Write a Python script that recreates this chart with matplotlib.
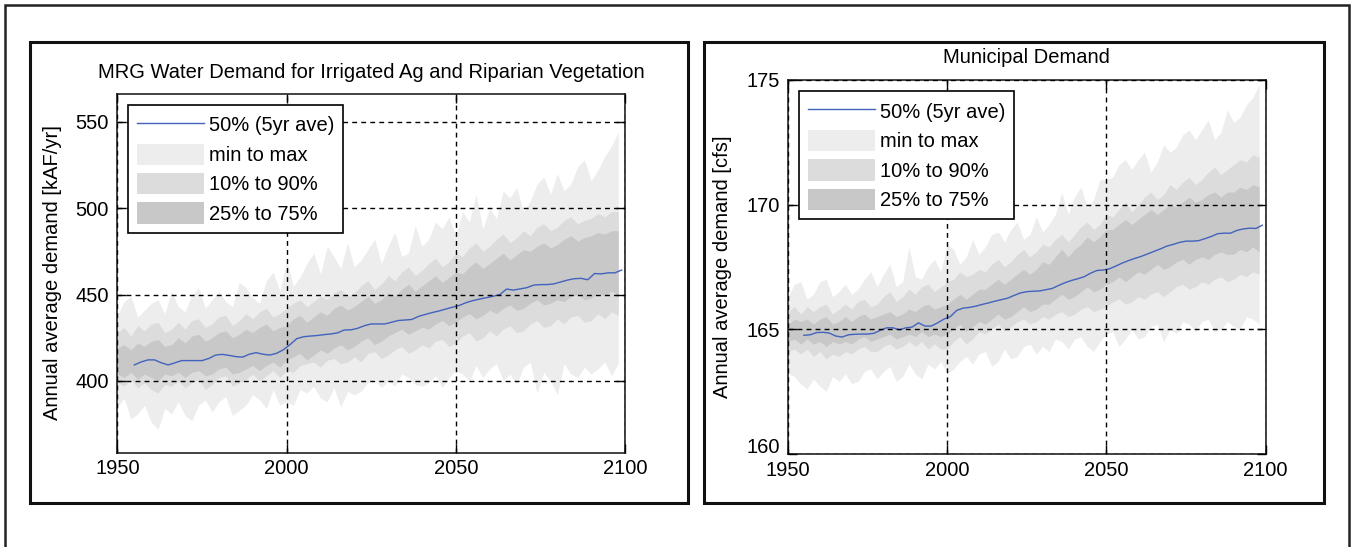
import numpy as np
import matplotlib
matplotlib.use('Agg')
import matplotlib.pyplot as plt
import matplotlib.transforms as mtransforms
from matplotlib.patches import Rectangle, Patch
from matplotlib.lines import Line2D

plt.rcParams['font.family'] = ['Liberation Sans', 'DejaVu Sans']

years = np.arange(1950, 2100, 2)
med_years = np.arange(1955, 2100, 2)

# ---- left panel: irrigated ag + riparian [kAF/yr]
ag_max = [438, 446, 449, 437, 441,  445, 447, 439, 452, 443,
          440, 450, 454, 442, 447,  452, 446, 443, 457, 454,
          448, 445, 458, 463, 452,  470, 455, 460, 468, 474,
          462, 478, 472, 465, 480,  466, 470, 476, 482, 468,
          478, 486, 472, 474, 490,  478, 482, 492, 488, 495,
          484, 498, 492, 508, 488,  500, 494, 510, 506, 512,
          498, 504, 514, 518, 508,  520, 510, 514, 524, 528,
          516, 522, 530, 536, 544]
ag_min = [385, 390, 378, 381, 386,  376, 372, 384, 381, 388,
          380, 377, 386, 389, 382,  388, 391, 380, 383, 386,
          392, 389, 384, 395, 386,  388, 386, 395, 393, 397,
          390, 388, 396, 385, 394,  392, 394, 399, 401, 396,
          400, 397, 404, 402, 398,  397, 399, 403, 396, 402,
          406, 404, 400, 409, 402,  407, 410, 400, 404, 398,
          408, 411, 393, 405, 400,  392, 410, 404, 402, 408,
          404, 407, 411, 403, 410]
ag_p10 = [399, 397, 401, 396, 399,  395, 393, 398, 397, 400,
          396, 399, 401, 395, 398,  402, 403, 397, 399, 401,
          404, 400, 403, 406, 402,  406, 405, 409, 410, 411,
          408, 412, 413, 410, 411,  414, 411, 416, 417, 413,
          415, 418, 420, 416, 418,  421, 419, 423, 424, 420,
          422, 426, 428, 423, 425,  429, 426, 430, 432, 428,
          429, 433, 435, 431, 432,  436, 433, 437, 438, 434,
          435, 439, 436, 440, 438]
ag_p90 = [428, 431, 426, 432, 429,  433, 434, 428, 430, 434,
          430, 435, 436, 431, 433,  437, 438, 432, 435, 439,
          436, 440, 442, 437, 439,  442, 445, 447, 443, 446,
          449, 447, 451, 453, 449,  451, 455, 458, 453, 456,
          461, 458, 463, 466, 461,  464, 468, 471, 466, 469,
          474, 472, 477, 480, 475,  478, 482, 485, 480, 483,
          487, 484, 489, 491, 487,  489, 493, 495, 491, 493,
          494, 497, 495, 498, 498]
ag_p25 = [404, 402, 405, 401, 404,  402, 400, 404, 403, 405,
          402, 405, 406, 403, 404,  407, 408, 404, 405, 407,
          409, 406, 409, 411, 408,  412, 414, 416, 412, 415,
          418, 416, 419, 421, 418,  420, 423, 425, 421, 423,
          426, 428, 430, 427, 429,  431, 430, 433, 435, 432,
          434, 437, 439, 436, 438,  441, 439, 442, 444, 441,
          442, 445, 447, 444, 445,  447, 446, 449, 450, 447,
          448, 451, 449, 452, 450]
ag_p75 = [419, 421, 418, 422, 420,  423, 424, 420, 421, 425,
          422, 426, 427, 423, 425,  428, 429, 425, 427, 430,
          428, 431, 433, 429, 431,  432, 436, 438, 434, 437,
          440, 438, 442, 444, 441,  443, 446, 449, 445, 447,
          451, 449, 453, 456, 452,  455, 458, 461, 457, 460,
          463, 462, 466, 469, 465,  468, 471, 474, 470, 473,
          476, 475, 478, 480, 477,  479, 482, 484, 481, 483,
          484, 486, 485, 487, 487]
ag_med = [409.3, 411.0, 412.2, 412.2, 410.5,  409.3, 410.5, 411.8, 411.8, 411.8,
          411.8, 413.0, 415.0, 415.4, 414.8,  414.1, 413.8, 415.5, 416.4, 415.5,
          415.0, 416.0, 418.0, 421.0, 424.5,  425.6, 426.0, 426.3, 426.8, 427.2,
          427.8, 429.5, 429.6, 430.5, 432.0,  433.0, 433.0, 433.0, 434.0, 435.0,
          435.3, 435.6, 437.4, 438.5, 439.6,  440.5, 441.6, 442.7, 443.7, 445.3,
          446.5, 447.4, 448.2, 449.0, 450.0,  453.2, 452.6, 453.3, 454.0, 455.5,
          455.8, 455.8, 456.2, 457.3, 458.4,  459.2, 459.4, 458.6, 462.2, 462.0,
          462.6, 462.6, 464.2]

# ---- right panel: municipal demand [cfs]
mu_max = [166.3, 166.8, 166.9, 166.2, 166.4,  166.9, 167.0, 166.3, 166.5, 166.8,
          166.4, 166.6, 167.0, 167.3, 166.7,  167.2, 167.6, 166.7, 166.9, 168.3,
          167.1, 167.0, 167.5, 167.8, 167.3,  168.4, 168.2, 167.6, 167.9, 168.6,
          168.0, 168.3, 168.8, 168.9, 168.5,  169.0, 169.3, 168.6, 168.8, 169.5,
          168.9, 169.2, 169.6, 170.5, 169.6,  170.3, 170.7, 169.9, 170.2, 171.0,
          171.0, 171.1, 171.6, 171.8, 171.4,  171.8, 172.1, 171.3, 171.7, 172.4,
          172.1, 172.3, 172.8, 173.0, 172.6,  173.0, 173.4, 172.6, 172.9, 173.8,
          173.3, 173.5, 174.0, 174.3, 174.8]
mu_min = [163.2, 163.1, 162.8, 162.6, 163.0,  162.7, 162.5, 163.1, 162.9, 163.2,
          162.8, 162.9, 163.3, 163.4, 163.0,  163.3, 163.5, 162.9, 163.1, 163.6,
          163.2, 163.0, 163.6, 163.4, 163.7,  163.2, 163.4, 163.7, 163.9, 163.6,
          164.0, 164.1, 163.5, 163.7, 164.2,  163.8, 163.9, 164.3, 164.4, 164.0,
          164.3, 164.1, 164.6, 164.5, 164.2,  164.6, 164.7, 164.3, 164.1, 164.5,
          164.8, 164.9, 164.3, 164.6, 165.0,  164.6, 164.7, 165.1, 165.2, 164.5,
          165.0, 164.8, 165.3, 165.2, 164.9,  165.3, 165.4, 164.9, 165.0, 165.3,
          165.1, 165.0, 165.5, 165.4, 165.2]
mu_p10 = [164.1, 164.2, 164.0, 164.2, 163.9,  164.1, 163.8, 164.0, 163.9, 164.1,
          164.0, 164.2, 164.3, 164.1, 164.1,  164.3, 164.4, 164.2, 164.3, 164.5,
          164.3, 164.5, 164.2, 164.4, 164.2,  164.2, 164.5, 164.7, 164.4, 164.6,
          164.9, 164.8, 165.0, 165.2, 164.9,  165.1, 165.3, 165.4, 165.2, 165.3,
          165.5, 165.4, 165.6, 165.7, 165.5,  165.6, 165.8, 165.9, 165.7, 165.8,
          165.9, 166.1, 166.2, 166.0, 166.1,  166.3, 166.2, 166.4, 166.5, 166.3,
          166.5, 166.7, 166.8, 166.6, 166.7,  166.9, 166.8, 167.0, 167.1, 166.9,
          167.0, 167.2, 167.1, 167.3, 167.2]
mu_p90 = [165.7, 165.9, 165.6, 165.9, 165.7,  165.9, 166.0, 165.6, 165.8, 166.0,
          165.8, 166.1, 166.2, 165.9, 166.0,  166.3, 166.5, 166.1, 166.3, 166.6,
          166.4, 166.7, 166.8, 166.5, 166.7,  166.9, 167.0, 167.3, 167.1, 167.2,
          167.4, 167.3, 167.6, 167.8, 167.5,  167.7, 168.0, 168.2, 167.9, 168.1,
          168.4, 168.3, 168.6, 168.8, 168.5,  168.8, 169.1, 169.3, 169.0, 169.2,
          169.6, 169.5, 169.8, 170.1, 169.7,  170.0, 170.3, 170.5, 170.2, 170.4,
          170.8, 170.6, 170.9, 171.1, 170.8,  171.0, 171.3, 171.5, 171.2, 171.4,
          171.6, 171.8, 171.7, 172.0, 171.9]
mu_p25 = [164.5, 164.6, 164.4, 164.6, 164.4,  164.5, 164.3, 164.5, 164.4, 164.5,
          164.4, 164.6, 164.7, 164.5, 164.6,  164.7, 164.8, 164.6, 164.7, 164.8,
          164.7, 164.9, 164.7, 164.8, 164.7,  164.8, 165.0, 165.2, 164.9, 165.1,
          165.3, 165.2, 165.4, 165.6, 165.4,  165.5, 165.7, 165.9, 165.7, 165.8,
          166.0, 166.0, 166.2, 166.4, 166.2,  166.3, 166.5, 166.7, 166.5, 166.6,
          166.8, 166.9, 167.1, 166.9, 167.1,  167.3, 167.2, 167.4, 167.6, 167.4,
          167.5, 167.7, 167.8, 167.6, 167.8,  167.9, 167.8, 168.0, 168.1, 168.0,
          168.0, 168.2, 168.1, 168.3, 168.1]
mu_p75 = [165.2, 165.4, 165.3, 165.4, 165.2,  165.4, 165.5, 165.2, 165.3, 165.5,
          165.3, 165.5, 165.6, 165.4, 165.5,  165.6, 165.7, 165.5, 165.6, 165.8,
          165.7, 165.9, 166.0, 165.8, 165.9,  166.0, 166.2, 166.4, 166.2, 166.4,
          166.6, 166.6, 166.8, 167.0, 166.8,  167.0, 167.2, 167.4, 167.2, 167.4,
          167.7, 167.6, 167.9, 168.2, 167.9,  168.2, 168.4, 168.7, 168.5, 168.7,
          169.0, 169.0, 169.2, 169.4, 169.2,  169.4, 169.6, 169.8, 169.6, 169.8,
          170.0, 169.9, 170.1, 170.3, 170.1,  170.2, 170.4, 170.5, 170.3, 170.5,
          170.5, 170.7, 170.6, 170.8, 170.7]
mu_med = [164.75, 164.77, 164.86, 164.87, 164.84,  164.72, 164.68, 164.77, 164.79, 164.80,
          164.80, 164.83, 164.95, 165.05, 165.05,  164.97, 165.05, 165.08, 165.25, 165.12,
          165.12, 165.25, 165.40, 165.50, 165.75,  165.84, 165.87, 165.92, 165.99, 166.05,
          166.12, 166.18, 166.24, 166.35, 166.45,  166.50, 166.52, 166.53, 166.58, 166.63,
          166.75, 166.86, 166.95, 167.02, 167.10,  167.24, 167.35, 167.37, 167.42, 167.53,
          167.65, 167.75, 167.84, 167.92, 168.02,  168.12, 168.22, 168.33, 168.40, 168.48,
          168.53, 168.53, 168.55, 168.63, 168.72,  168.83, 168.85, 168.85, 168.96, 169.02,
          169.05, 169.04, 169.17]

labels = ['50% (5yr ave)', 'min to max', '10% to 90%', '25% to 75%']
c_minmax = '#ededed'
c_1090 = '#dcdcdc'
c_2575 = '#c8c8c8'
c_line = '#4262bd'
fs = 14.5


def panel(ax, lo, hi, p10, p90, p25, p75, med, ylim, yticks, title, ylabel, leg_xy, tpad):
    ax.fill_between(years, lo, hi, color=c_minmax, lw=0)
    ax.fill_between(years, p10, p90, color=c_1090, lw=0)
    ax.fill_between(years, p25, p75, color=c_2575, lw=0)
    ax.plot(med_years, med, color=c_line, lw=1.0)
    ax.set_xlim(1950, 2100)
    ax.set_ylim(*ylim)
    ax.set_xticks([1950, 2000, 2050, 2100])
    ax.set_yticks(yticks)
    ax.grid(True, color='black', linestyle=(0, (3.5, 3)), lw=1.0)
    ax.set_axisbelow(False)
    ax.tick_params(direction='in', length=6.5, width=1, top=True, right=True,
                   labelsize=fs, pad=6)
    ax.tick_params(axis='x', pad=5)
    for s in ax.spines.values():
        s.set_linewidth(1.2)
        s.set_color('#222222')
    ax.set_title(title, fontsize=fs, pad=tpad)
    ax.set_ylabel(ylabel, fontsize=fs, labelpad=10)
    handles = [Line2D([], [], color=c_line, lw=1.0),
               Patch(facecolor=c_minmax, lw=0),
               Patch(facecolor=c_1090, lw=0),
               Patch(facecolor=c_2575, lw=0)]
    leg = ax.legend(handles, labels, loc='upper left', bbox_to_anchor=leg_xy,
                    fontsize=fs, fancybox=False, framealpha=1, edgecolor='black',
                    handlelength=3.3, handleheight=1.25, labelspacing=0.4,
                    handletextpad=0.25, borderpad=0.45, borderaxespad=0)
    leg.get_frame().set_linewidth(1.2)


fig = plt.figure(figsize=(13.52, 5.47), dpi=100)

# outer frame and panel boxes (pixel coords -> figure fraction)
W, H = 1352.0, 547.0


def box(x0, y0, x1, y1, lw, col):
    fig.patches.append(Rectangle((x0 / W, 1 - y1 / H), (x1 - x0) / W, (y1 - y0) / H,
                                 transform=fig.transFigure, fill=False,
                                 lw=lw, edgecolor=col, zorder=5))


box(5, 5, 1349, 600, 1.8, '#222222')
box(30, 42, 688, 503, 2.2, '#111111')
box(704, 42, 1324, 503, 2.2, '#111111')

ax1 = fig.add_axes([117.4 / W, 1 - 452.5 / H, 507.6 / W, 359 / H])
panel(ax1, ag_min, ag_max, ag_p10, ag_p90, ag_p25, ag_p75, ag_med,
      (358.6, 566.4), [400, 450, 500, 550],
      'MRG Water Demand for Irrigated Ag and Riparian Vegetation',
      'Annual average demand [kAF/yr]', (0.021, 0.968), 11)

ax2 = fig.add_axes([788 / W, 1 - 453.6 / H, 477.5 / W, 373.6 / H])
panel(ax2, mu_min, mu_max, mu_p10, mu_p90, mu_p25, mu_p75, mu_med,
      (160, 175), [160, 165, 170, 175],
      'Municipal Demand', 'Annual average demand [cfs]', (0.023, 0.9695), 12.5)

# lift the bottom "160" label a touch so it sits just above "1950"
fig.canvas.draw()
lab160 = ax2.get_yticklabels()[0]
lab160.set_transform(lab160.get_transform() +
                     mtransforms.ScaledTranslation(0, 6 / 72, fig.dpi_scale_trans))

fig.savefig('out.png', dpi=100)
